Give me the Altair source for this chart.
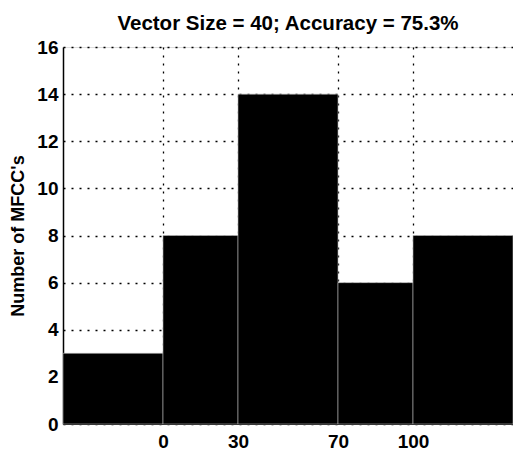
import altair as alt
import pandas as pd

# Histogram bins (left/right edges) and counts per bin
bin_left = [-40, 0, 30, 70, 100]
bin_right = [0, 30, 70, 100, 140]
counts = [3, 8, 14, 6, 8]

x_ticks = [0, 30, 70, 100]
y_ticks = [0, 2, 4, 6, 8, 10, 12, 14, 16]

df = pd.DataFrame({"lo": bin_left, "hi": bin_right, "n": counts})

FONT = "Liberation Sans"

bars = alt.Chart(df).mark_rect(color="black", stroke="#bbbbbb", strokeWidth=0.6).encode(
    x=alt.X(
        "lo:Q",
        scale=alt.Scale(domain=[-40, 140], nice=False, zero=False),
        axis=alt.Axis(
            values=x_ticks,
            title=None,
            grid=True,
            gridColor="black",
            gridDash=[2, 6],
            gridWidth=1.3,
            ticks=False,
            domain=True,
            domainColor="black",
            labelFont=FONT,
            labelFontSize=19,
            labelFontWeight="bold",
            labelColor="black",
            labelPadding=8,
        ),
    ),
    x2="hi:Q",
    y=alt.Y(
        "n:Q",
        scale=alt.Scale(domain=[0, 16], nice=False),
        axis=alt.Axis(
            values=y_ticks,
            title="Number of MFCC's",
            titleFont=FONT,
            titleFontSize=18,
            titleFontWeight="bold",
            titleColor="black",
            titlePadding=9,
            grid=True,
            gridColor="black",
            gridDash=[2, 6],
            gridWidth=1.3,
            ticks=False,
            domain=True,
            domainColor="black",
            domainWidth=1.5,
            labelFont=FONT,
            labelFontSize=19,
            labelFontWeight="bold",
            labelColor="black",
            labelPadding=5,
        ),
    ),
    y2=alt.datum(0),
)

chart = bars.properties(
    width=450,
    height=377,
    title=alt.TitleParams(
        "Vector Size = 40; Accuracy = 75.3%",
        font=FONT,
        fontSize=20.5,
        fontWeight="bold",
        color="black",
        offset=4,
    ),
    autosize=alt.AutoSizeParams(type="none"),
    padding={"left": 63, "top": 47, "right": 0, "bottom": 29},
).configure_view(stroke="black", strokeWidth=1.2).configure(background="white")

chart.save("out.html", embed_options={"renderer": "svg", "actions": False})
